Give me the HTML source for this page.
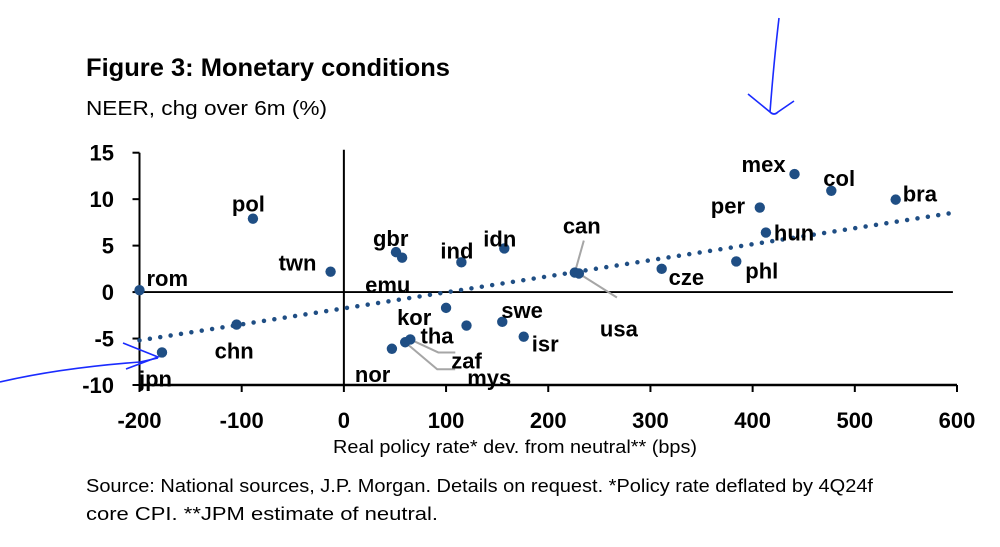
<!DOCTYPE html>
<html><head><meta charset="utf-8"><style>
html,body{margin:0;padding:0;background:#fff;}
svg{display:block;font-family:"Liberation Sans",Arial,sans-serif;}
</style></head><body>
<svg id="chart" width="1000" height="547" viewBox="0 0 1000 547">
<text x="86" y="76" font-size="25" font-weight="bold" textLength="364" lengthAdjust="spacingAndGlyphs">Figure 3: Monetary conditions</text>
<text x="86" y="115" font-size="20" textLength="241" lengthAdjust="spacingAndGlyphs">NEER, chg over 6m (%)</text>
<text x="515" y="453" font-size="18" text-anchor="middle" textLength="364" lengthAdjust="spacingAndGlyphs">Real policy rate* dev. from neutral** (bps)</text>
<text x="86" y="492" font-size="18" textLength="787" lengthAdjust="spacingAndGlyphs">Source: National sources, J.P. Morgan. Details on request. *Policy rate deflated by 4Q24f</text>
<text x="86" y="520" font-size="18" textLength="352" lengthAdjust="spacingAndGlyphs">core CPI. **JPM estimate of neutral.</text>
<g id="axes"></g><g id="trend"></g><g id="leaders"></g><g id="points"></g><g id="labels"></g>
<g fill="none" stroke="#1a2bff" stroke-width="1.6">
<path d="M779 18 Q774 60 770 112"/><path d="M748 94 L770 112 Q774 116 778 112 L794 101"/>
</g>
<g fill="none" stroke="#1a2bff" stroke-width="1.6">
<path d="M0 382 Q60 368 140 362 L158 358"/><path d="M123 343 L158 357 L126 369"/>
</g>
</svg>
<script>
const names=["rom","pol","twn","chn","jpn","gbr","emu","ind","idn","kor","tha","swe","isr","nor","zaf","mys","can","usa","cze","phl","hun","per","mex","col","bra"];
const xVals=[-200,-89,-13,-105,-178,51,57,115,157,100,120,155,176,47,65,60,226,230,311,384,413,407,441,477,540];
const yVals=[0.2,7.9,2.2,-3.5,-6.5,4.3,3.7,3.2,4.7,-1.7,-3.6,-3.2,-4.8,-6.1,-5.1,-5.4,2.1,2.0,2.5,3.3,6.4,9.1,12.7,10.9,9.95];
const xTicks=[-200,-100,0,100,200,300,400,500,600];
const yTicks=[15,10,5,0,-5,-10];
const trendStart=[-200,-5.2];
const trendEnd=[600,8.6];
// label placement offsets (px) relative to each dot
const labelOff={rom:[7,-12],pol:[-21,-15],twn:[-52,-9],chn:[-22,26],jpn:[-23,26],gbr:[-23,-14],emu:[-37,27],ind:[-21,-12],idn:[-21,-10],kor:[-49,9],tha:[-46,10],swe:[-1,-12],isr:[8,7],nor:[-37,25],zaf:[41,21],mys:[62,35],can:[-12,-47],usa:[21,55],cze:[7,8],phl:[9,9],hun:[8,0],per:[-49,-2],mex:[-53,-10],col:[-8,-13],bra:[7,-6]};
const NS="http://www.w3.org/2000/svg";
const X0=139.5,X1=957,Y0=152.7,Y1=385;
function sx(v){return X0+(v+200)/800*(X1-X0);}
function sy(v){return Y0+(15-v)/25*(Y1-Y0);}
function mk(tag,attrs,parent){const e=document.createElementNS(NS,tag);for(const k in attrs)e.setAttribute(k,attrs[k]);document.getElementById(parent).appendChild(e);return e;}
let e;
e=mk("line",{x1:sx(-200),y1:Y0,x2:sx(-200),y2:Y1,stroke:"#000","stroke-width":2},"axes");


e=mk("line",{x1:sx(-200)-1,y1:Y1,x2:X1,y2:Y1,stroke:"#000","stroke-width":2.5},"axes");


e=mk("line",{x1:sx(0),y1:Y0-3,x2:sx(0),y2:Y1,stroke:"#000","stroke-width":2},"axes");


e=mk("line",{x1:sx(-200),y1:sy(0),x2:sx(596),y2:sy(0),stroke:"#000","stroke-width":1.8},"axes");


xTicks.forEach(t=>{
 e=mk("line",{x1:sx(t),y1:Y1,x2:sx(t),y2:Y1+7,stroke:"#000","stroke-width":2},"axes");
 
 
 e=mk("text",{x:sx(t),y:428,"font-size":22,"font-weight":"bold","text-anchor":"middle"},"axes");
 e.textContent=t;
 
 
});
yTicks.forEach(t=>{
 e=mk("line",{x1:sx(-200)-7,y1:sy(t),x2:sx(-200),y2:sy(t),stroke:"#000","stroke-width":2},"axes");
 
 
 e=mk("text",{x:114,y:sy(t)+8,"font-size":22,"font-weight":"bold","text-anchor":"end"},"axes");
 e.textContent=t;
 
 
});
e=mk("line",{x1:sx(trendStart[0]),y1:sy(trendStart[1]),x2:sx(trendEnd[0]),y2:sy(trendEnd[1]),stroke:"#1f4e84","stroke-width":4.5,"stroke-linecap":"round","stroke-dasharray":"0 10.5"},"trend");


function leader(name,pts){
 const i=names.indexOf(name);const px=sx(xVals[i]),py=sy(yVals[i]);
 const d="M"+px+" "+py+pts.map(p=>" L"+(px+p[0])+" "+(py+p[1])).join("");
 e=mk("path",{d:d,fill:"none",stroke:"#a6a6a6","stroke-width":2},"leaders");
 
 
}
leader("can",[[9,-32]]);
leader("usa",[[38,24]]);
leader("zaf",[[28,13],[45,13]]);
leader("mys",[[32,27],[50,27]]);
names.forEach((n,i)=>{
 const px=sx(xVals[i]),py=sy(yVals[i]);
 e=mk("circle",{cx:px,cy:py,r:5.2,fill:"#1f4e84"},"points");
 
 
 const o=labelOff[n];
 e=mk("text",{x:px+o[0],y:py+o[1]+8,"font-size":22,"font-weight":"bold"},"labels");
 e.textContent=n;
 
 
});
</script>
</body></html>
